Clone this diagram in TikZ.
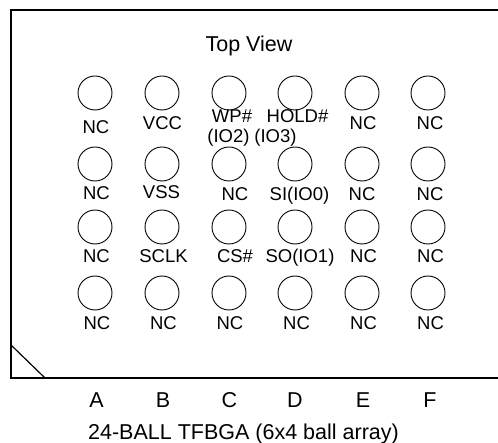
\documentclass[tikz,border=0pt]{standalone}
\usepackage{fontspec}
\setmainfont{Liberation Sans}
\usetikzlibrary{positioning,calc}

\tikzset{
  ball/.style={draw,circle,line width=0.9pt,minimum size=34pt,inner sep=0pt},
  pin/.style={anchor=base,inner sep=0pt,font=\fontsize{18.5}{20}\selectfont},
  big/.style={anchor=base,inner sep=0pt,font=\fontsize{21.5}{24}\selectfont}
}

\begin{document}
\begin{tikzpicture}[x=1pt,y=-1pt]
    \useasboundingbox (0,0) rectangle (498,443);
    % package outline, open to the right
    \coordinate (tr) at (499,10);
    \coordinate (tl) at (11,10);
    \coordinate (bl) at (11,378);
    \coordinate (br) at (499,378);
    \coordinate (cu) at (11,345);
    \coordinate (cr) at (45,378);
    \draw [line width=1.5pt] (tr) -- (tl) -- (bl) -- (br);
    \draw [line width=1.2pt] (cu) -- (cr);

    \node [big] (top) at (249,52) {Top View};

    % first row
    \node [ball] (a1) at (95,93) {};
    \node [ball] (b1) at (162,93) {};
    \node [ball] (c1) at (229,93) {};
    \node [ball] (d1) at (295,93) {};
    \node [ball] (e1) at (362,93) {};
    \node [ball] (f1) at (428,93) {};
    \node [pin] (la1) at (96,134) {NC};
    \node [pin] (lb1) at (162.5,130) {VCC};
    \node [pin] (lc1) at (232,123) {WP\#};
    \node [pin] (lc1b) at (228.5,143) {(IO2)};
    \node [pin] (ld1) at (297.5,123) {HOLD\#};
    \node [pin] (ld1b) at (275.5,143) {(IO3)};
    \node [pin] (le1) at (363,129.5) {NC};
    \node [pin] (lf1) at (430,129.5) {NC};

    % second row
    \node [ball] (a2) at (95,164) {};
    \node [ball] (b2) at (162,164) {};
    \node [ball] (c2) at (229,164) {};
    \node [ball] (d2) at (295,164) {};
    \node [ball] (e2) at (362,164) {};
    \node [ball] (f2) at (428,164) {};
    \node [pin] (la2) at (96.5,200) {NC};
    \node [pin] (lb2) at (161.5,199) {VSS};
    \node [pin] (lc2) at (235,201) {NC};
    \node [pin] (ld2) at (299.5,201) {SI(IO0)};
    \node [pin] (le2) at (362,201) {NC};
    \node [pin] (lf2) at (430,201) {NC};

    % third row
    \node [ball] (a3) at (95,227) {};
    \node [ball] (b3) at (162,227) {};
    \node [ball] (c3) at (229,227) {};
    \node [ball] (d3) at (295,227) {};
    \node [ball] (e3) at (362,227) {};
    \node [ball] (f3) at (428,227) {};
    \node [pin] (la3) at (96.5,263) {NC};
    \node [pin] (lb3) at (163.5,263) {SCLK};
    \node [pin] (lc3) at (235,263) {CS\#};
    \node [pin] (ld3) at (300,263) {SO(IO1)};
    \node [pin] (le3) at (363.5,263) {NC};
    \node [pin] (lf3) at (430.5,263) {NC};

    % fourth row
    \node [ball] (a4) at (95,293) {};
    \node [ball] (b4) at (162,293) {};
    \node [ball] (c4) at (229,293) {};
    \node [ball] (d4) at (295,293) {};
    \node [ball] (e4) at (362,293) {};
    \node [ball] (f4) at (428,293) {};
    \node [pin] (la4) at (97,330) {NC};
    \node [pin] (lb4) at (163.5,330) {NC};
    \node [pin] (lc4) at (230,330) {NC};
    \node [pin] (ld4) at (296.5,330) {NC};
    \node [pin] (le4) at (363.5,330) {NC};
    \node [pin] (lf4) at (430.5,330) {NC};

    % column letters and caption
    \node [big] (colA) at (96.5,407) {A};
    \node [big] (colB) at (163,407) {B};
    \node [big] (colC) at (229.5,407) {C};
    \node [big] (colD) at (295,407) {D};
    \node [big] (colE) at (363,407) {E};
    \node [big] (colF) at (430,407) {F};
    \node [big] (caption) at (243.5,439) {24-BALL TFBGA (6x4 ball array)};
\end{tikzpicture}
\end{document}
